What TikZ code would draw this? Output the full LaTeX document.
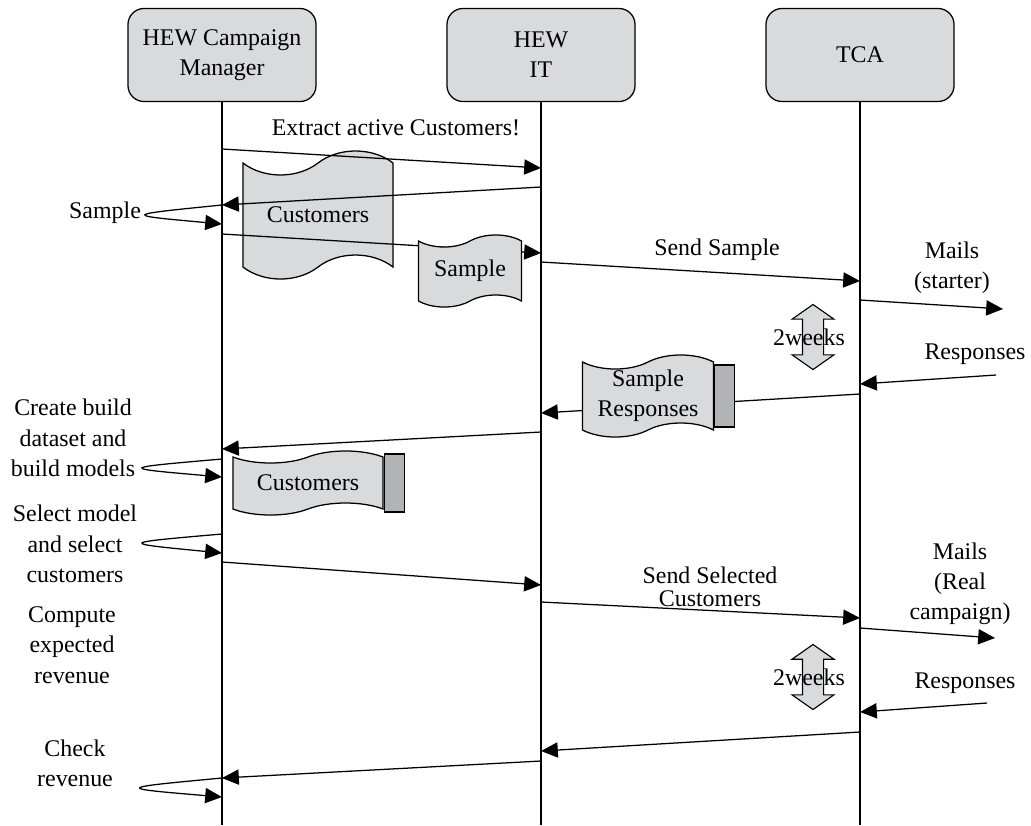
\documentclass[tikz,border=0pt]{standalone}
\usepackage{fontspec}
\setmainfont{Liberation Serif}
\usepackage{tikz}
\usetikzlibrary{shapes.symbols, shapes.arrows, arrows.meta, positioning}
\definecolor{boxgray}{RGB}{217,218,220}
\definecolor{tabgray}{RGB}{178,179,181}

\begin{document}
\begin{tikzpicture}[
		x=0.025cm, y=-0.025cm,
		font=\fontsize{17}{21.5}\selectfont,
		actor/.style={draw, rounded corners=0.4cm, fill=boxgray, align=center, line width=0.9pt, minimum width=4.7cm, minimum height=2.325cm},
		life/.style={line width=0.8pt},
		msg/.style={-{Triangle[length=0.42cm, width=0.38cm]}, line width=0.9pt},
		doc/.style={draw, tape, fill=boxgray, align=center, line width=0.9pt, inner sep=0pt},
		tab/.style={draw, fill=tabgray, line width=0.9pt, minimum width=0.5cm, inner sep=0pt},
		lbl/.style={align=center},
		weeks/.style={draw, double arrow, fill=boxgray, rotate=90, line width=0.8pt, minimum height=1.625cm, inner xsep=0pt, inner ysep=0.25cm, double arrow head extend=0.26cm, double arrow tip angle=110}
	]
		\useasboundingbox (0,0) rectangle (1031,825);

		% actors
		\node[actor] (cm) at (222,55) {HEW Campaign\\Manager};
		\node[actor] (it) at (541,55) {HEW\\IT};
		\node[actor] (tca) at (860,55) {TCA};

		\draw[life] (cm.south) -- (cm.south |- 0,825);
		\draw[life] (it.south) -- (it.south |- 0,825);
		\draw[life] (tca.south) -- (tca.south |- 0,825);

		% documents behind the messages
		\node[doc, tape bend height=0.6cm, minimum width=3.75cm, minimum height=3.2cm] (cust) at (318,215) {Customers};
		\node[doc, tape bend height=0.3cm, minimum width=3.75cm, minimum height=1.6cm] (cust2) at (308,483) {Customers};
		\node[tab, minimum height=1.45cm, right=0pt of cust2] (cust2tab) {};

		% messages
		\draw[msg] (cm |- 0,149) -- (it |- 0,168);
		\node[lbl] (extract) at (396,128) {Extract active Customers!};
		\draw[msg] (it |- 0,187) -- (cm |- 0,205);
		\draw[msg] (cm |- 0,205) .. controls (122,215) and (122,215) .. (cm |- 0,224);
		\node[lbl] (lsample) at (105,213) {Sample};
		\draw[msg] (cm |- 0,234) -- (it |- 0,253);
		\draw[msg] (it |- 0,262) -- (tca |- 0,281);
		\node[lbl] (sendsample) at (717,250) {Send Sample};
		\coordinate (mails1) at (1003,309);
		\draw[msg] (tca |- 0,300) -- (mails1);
		\node[lbl] (lmails1) at (952,268) {Mails\\(starter)};
		\coordinate (resp1) at (996,375);
		\draw[msg] (resp1) -- (tca |- 0,384);
		\node[lbl] (lresp1) at (975,354) {Responses};
		\draw[msg] (tca |- 0,394) -- (it |- 0,413);
		\draw[msg] (it |- 0,432) -- (cm |- 0,449);
		\draw[msg] (cm |- 0,459) .. controls (118,468) and (118,468) .. (cm |- 0,477);
		\node[lbl] (lbuild) at (73,438) {Create build\\dataset and\\build models};
		\draw[msg] (cm |- 0,534) .. controls (118,543) and (118,543) .. (cm |- 0,553);
		\node[lbl] (lselect) at (75,544) {Select model\\and select\\customers};
		\draw[msg] (cm |- 0,562) -- (it |- 0,585);
		\draw[msg] (it |- 0,602) -- (tca |- 0,618);
		\node[lbl, font=\fontsize{17}{16}\selectfont] (sendsel) at (710,587) {Send Selected\\Customers};
		\coordinate (mails2) at (995,638);
		\draw[msg] (tca |- 0,628) -- (mails2);
		\node[lbl] (lmails2) at (960,584) {Mails\\(Real\\campaign)};
		\node[lbl] (lcompute) at (72,645) {Compute\\expected\\revenue};
		\coordinate (resp2) at (987,703);
		\draw[msg] (resp2) -- (tca |- 0,712);
		\node[lbl] (lresp2) at (965,683) {Responses};
		\draw[msg] (tca |- 0,732) -- (it |- 0,751);
		\draw[msg] (it |- 0,761) -- (cm |- 0,778);
		\draw[msg] (cm |- 0,778) .. controls (115,788) and (115,788) .. (cm |- 0,797);
		\node[lbl] (lcheck) at (75,763) {Check\\revenue};

		% documents over the messages
		\node[doc, tape bend height=0.3cm, minimum width=2.575cm, minimum height=1.8cm] (samp) at (470,271) {Sample};
		\node[doc, tape bend height=0.35cm, minimum width=3.275cm, minimum height=2.05cm] (sresp) at (648,396) {Sample\\Responses};
		\node[tab, minimum height=1.55cm, right=0pt of sresp] (sresptab) {};

		% waiting times
		\node[weeks] (wait1) at (813,337) {};
		\node (wait1txt) at (809,337) {2weeks};
		\node[weeks] (wait2) at (813,677) {};
		\node (wait2txt) at (809,677) {2weeks};
	\end{tikzpicture}
\end{document}
